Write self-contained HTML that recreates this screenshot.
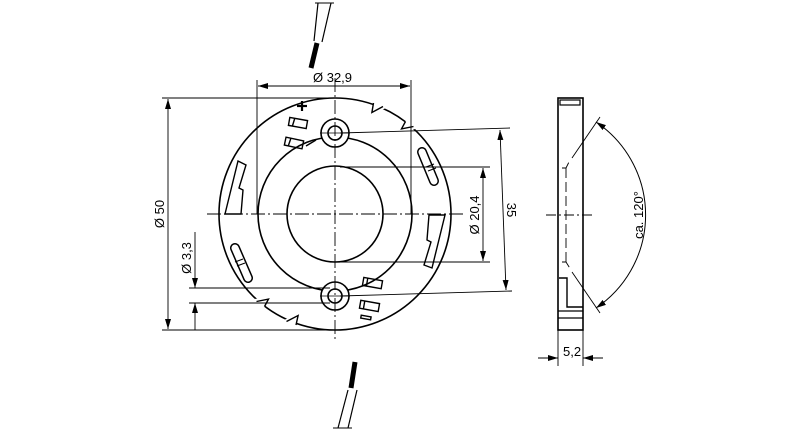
<!DOCTYPE html>
<html><head><meta charset="utf-8"><style>
html,body{margin:0;padding:0;background:#fff;width:800px;height:430px;overflow:hidden}
text{font-family:"Liberation Sans",sans-serif;font-size:13px;fill:#000}
</style></head><body>
<svg width="800" height="430" viewBox="0 0 800 430" xmlns="http://www.w3.org/2000/svg">
<defs>
<marker id="a" viewBox="0 0 10 6" refX="10" refY="3" markerWidth="10" markerHeight="6" orient="auto-start-reverse" markerUnits="userSpaceOnUse"><path d="M0,0 L10,3 L0,6 z" fill="#000"/></marker>
</defs>
<g fill="none" stroke="#000">
<!-- wires -->
<line x1="318" y1="3" x2="314" y2="41" stroke-width="1.2"/>
<line x1="331" y1="3" x2="322" y2="42" stroke-width="1.2"/>
<line x1="315" y1="3" x2="334" y2="3" stroke-width="1"/>
<line x1="317" y1="43" x2="311" y2="68" stroke-width="5"/>
<line x1="355" y1="362" x2="351" y2="388" stroke-width="5"/>
<line x1="348" y1="390" x2="338" y2="428" stroke-width="1.2"/>
<line x1="357" y1="390" x2="348" y2="428" stroke-width="1.2"/>
<line x1="333" y1="428" x2="352" y2="428" stroke-width="1"/>

<!-- main part -->
<circle cx="335" cy="214" r="116" stroke-width="1.6"/>
<circle cx="335" cy="214" r="77" stroke-width="1.6"/>
<circle cx="335" cy="214" r="48" stroke-width="1.6"/>
<circle cx="335" cy="133" r="14" fill="#fff" stroke-width="1.6"/>
<circle cx="335" cy="133" r="7" stroke-width="1.6"/>
<circle cx="335" cy="296" r="14" fill="#fff" stroke-width="1.6"/>
<circle cx="335" cy="296" r="7" stroke-width="1.6"/>
<!-- notches -->
<g fill="#fff" stroke="#fff" stroke-width="3">
<polygon points="374.7,105 371.9,112.5 382.2,108"/>
<polygon points="406.4,122.6 401.5,128.9 412.6,127.8"/>
<polygon points="263.6,305.4 268.5,299.1 257.4,300.2"/>
<polygon points="295.3,323 298.1,315.5 287.8,320"/>
</g>
<g stroke-width="1.4">
<polyline points="373.5,103 371.9,112.5 383,106.5"/>
<polyline points="405.5,121.5 401.5,128.9 413.5,126.5"/>
<polyline points="264.5,306.5 268.5,299.1 256.5,301.5"/>
<polyline points="296,325 298.1,315.5 286.5,321.5"/>
</g>
<!-- slots -->
<polygon points="225,214 241,214 243,190 239,188 246,165 238,161" stroke-width="1.4"/>
<polygon points="445,215 429,215 427,240 431,242 424,265 432,268" stroke-width="1.4"/>
<line x1="422" y1="152" x2="434" y2="181" stroke-width="10" stroke-linecap="round"/>
<line x1="422" y1="152" x2="434" y2="181" stroke="#fff" stroke-width="7" stroke-linecap="round"/>
<line x1="426" y1="167" x2="434" y2="164"/><line x1="428" y1="171" x2="436" y2="168"/>
<line x1="235" y1="248" x2="248" y2="278" stroke-width="10" stroke-linecap="round"/>
<line x1="235" y1="248" x2="248" y2="278" stroke="#fff" stroke-width="7" stroke-linecap="round"/>
<line x1="235" y1="262" x2="243" y2="259"/><line x1="237" y1="266" x2="245" y2="263"/>
<!-- pads -->
<g stroke-width="1.4">
<rect x="289" y="119" width="18" height="8" transform="rotate(10 298 123)"/>
<line x1="294" y1="119" x2="293" y2="127" transform="rotate(10 298 123)"/>
<rect x="285" y="139" width="18" height="8" transform="rotate(12 294 143)"/>
<line x1="290" y1="139" x2="289" y2="147" transform="rotate(12 294 143)"/>
<line x1="306" y1="146" x2="316" y2="140"/>
<rect x="363" y="279" width="19" height="8" transform="rotate(10 372 283)"/>
<line x1="367" y1="279" x2="367" y2="287" transform="rotate(10 372 283)"/>
<rect x="360" y="302" width="19" height="8" transform="rotate(10 370 306)"/>
<line x1="364" y1="302" x2="364" y2="310" transform="rotate(10 370 306)"/>
<rect x="361" y="316" width="10" height="3" transform="rotate(10 366 317)"/>
<line x1="297" y1="106" x2="307" y2="106" stroke-width="2.2"/>
<line x1="302" y1="101" x2="302" y2="111" stroke-width="2.2"/>
</g>
<!-- center lines -->
<g stroke-width="0.9" stroke-dasharray="14,3,2,3">
<line x1="335" y1="78" x2="335" y2="342"/>
<line x1="207" y1="214" x2="465" y2="214"/>
</g>
<line x1="320" y1="133" x2="350" y2="133" stroke-width="0.8"/>
<line x1="320" y1="296" x2="350" y2="296" stroke-width="0.8"/>

<!-- dimensions -->
<g stroke-width="0.9">
<line x1="257" y1="80" x2="257" y2="214"/>
<line x1="411" y1="80" x2="411" y2="214"/>
<line x1="258" y1="86" x2="410" y2="86" marker-start="url(#a)" marker-end="url(#a)"/>
<line x1="162" y1="98" x2="335" y2="98"/>
<line x1="162" y1="330" x2="335" y2="330"/>
<line x1="168" y1="99" x2="168" y2="329" marker-start="url(#a)" marker-end="url(#a)"/>
<line x1="189" y1="288" x2="330" y2="288"/>
<line x1="189" y1="303" x2="330" y2="303"/>
<line x1="195" y1="232" x2="195" y2="288" marker-end="url(#a)"/>
<line x1="195" y1="330" x2="195" y2="303" marker-end="url(#a)"/>
<line x1="340" y1="167" x2="490" y2="167"/>
<line x1="340" y1="262" x2="490" y2="262"/>
<line x1="483" y1="168" x2="483" y2="261" marker-start="url(#a)" marker-end="url(#a)"/>
<line x1="340" y1="133" x2="510" y2="128"/>
<line x1="340" y1="296" x2="512" y2="291"/>
<line x1="500" y1="130" x2="506" y2="290" marker-start="url(#a)" marker-end="url(#a)"/>
</g>

<!-- side view -->
<rect x="558" y="98" width="25" height="232" stroke-width="1.6"/>
<rect x="560" y="100" width="20" height="5" stroke-width="1.2"/>
<polyline points="559,278 567,278 567,307 583,307" stroke-width="1.4"/>
<line x1="558" y1="311" x2="583" y2="311" stroke-width="1.2"/>
<line x1="558" y1="318" x2="583" y2="318" stroke-width="1.2"/>
<g stroke-width="0.9" stroke-dasharray="10,4">
<line x1="566" y1="168" x2="566" y2="262"/>
<polyline points="562,168 566,168 570,160"/>
<polyline points="562,262 566,262 571,270"/>
</g>
<line x1="572" y1="158" x2="600" y2="117" stroke-width="0.9"/>
<line x1="572" y1="272" x2="600" y2="313" stroke-width="0.9"/>
<line x1="546" y1="215" x2="592" y2="215" stroke-width="0.9" stroke-dasharray="10,3,2,3"/>
<path d="M596,122 A112,112 0 0 1 596,308" stroke-width="1" marker-start="url(#a)" marker-end="url(#a)"/>
<line x1="558" y1="330" x2="558" y2="366" stroke-width="0.9"/>
<line x1="583" y1="330" x2="583" y2="366" stroke-width="0.9"/>
<line x1="538" y1="358" x2="558" y2="358" stroke-width="0.9" marker-end="url(#a)"/>
<line x1="603" y1="358" x2="583" y2="358" stroke-width="0.9" marker-end="url(#a)"/>
</g>
<text x="313" y="82">Ø 32,9</text>
<text transform="translate(164,214) rotate(-90)" text-anchor="middle">Ø 50</text>
<text transform="translate(191,258) rotate(-90)" text-anchor="middle">Ø 3,3</text>
<text transform="translate(479,215) rotate(-90)" text-anchor="middle">Ø 20,4</text>
<text transform="translate(507,210) rotate(90)" text-anchor="middle">35</text>
<text transform="translate(643,215) rotate(-90)" text-anchor="middle">ca. 120°</text>
<text x="563" y="356">5,2</text>
</svg>
</body></html>
